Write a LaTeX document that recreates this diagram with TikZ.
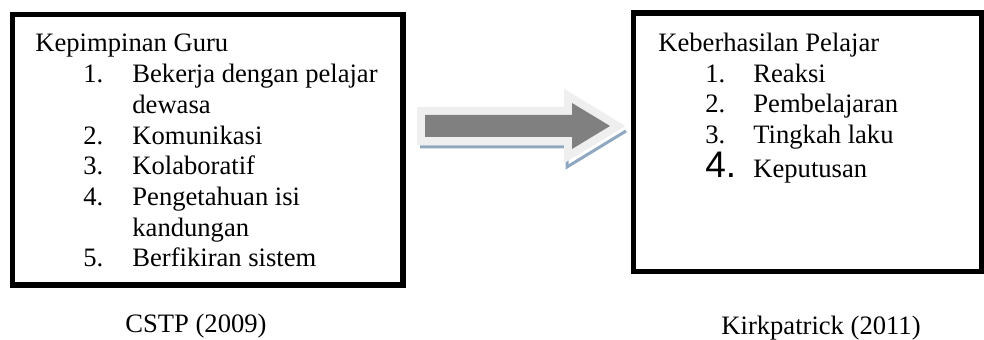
\documentclass[tikz,border=0pt]{standalone}
\usepackage{fontspec}
\setmainfont{Liberation Serif}
\newfontfamily\arialfont{Liberation Sans}
\definecolor{panahkelabu}{HTML}{808080}
\definecolor{panahtepi}{HTML}{EFEFEF}
\definecolor{panahbayang}{HTML}{8FA7BF}

\begin{document}
\begin{tikzpicture}[x=0.5pt, y=-0.5pt,
    kotak/.style={draw, line width=2.75pt, inner sep=0pt},
    teks/.style={anchor=base west, inner sep=0pt, font=\fontsize{13.3}{16}\selectfont}]

    \useasboundingbox (0,0) rectangle (984,340);

    % 1. 两个粗边框的方框
    \node[kotak, minimum width=195.25pt, minimum height=135.25pt] (guru) at (207.75,149.75) {};
    \node[kotak, minimum width=174.25pt, minimum height=129.25pt] (pelajar) at (807.75,142.25) {};

    % 2. 左边方框里的文字
    \node[teks] (judulguru) at (35,52) {Kepimpinan Guru};
    \node[teks] (ng1) at (83,82.7) {1.};
    \node[teks] (guru1) at (132,82.7) {Bekerja dengan pelajar};
    \node[teks] (guru1b) at (132,113.4) {dewasa};
    \node[teks] (ng2) at (83,144.1) {2.};
    \node[teks] (guru2) at (132,144.1) {Komunikasi};
    \node[teks] (ng3) at (83,174.8) {3.};
    \node[teks] (guru3) at (132,174.8) {Kolaboratif};
    \node[teks] (ng4) at (83,205.5) {4.};
    \node[teks] (guru4) at (132,205.5) {Pengetahuan isi};
    \node[teks] (guru4b) at (132,236.2) {kandungan};
    \node[teks] (ng5) at (83,266.9) {5.};
    \node[teks] (guru5) at (132,266.9) {Berfikiran sistem};

    % 3. 右边方框里的文字
    \node[teks] (judulpelajar) at (658,52) {Keberhasilan Pelajar};
    \node[teks] (np1) at (705,82.5) {1.};
    \node[teks] (pelajar1) at (753,82.5) {Reaksi};
    \node[teks] (np2) at (705,113) {2.};
    \node[teks] (pelajar2) at (753,113) {Pembelajaran};
    \node[teks] (np3) at (705,143.5) {3.};
    \node[teks] (pelajar3) at (753,143.5) {Tingkah laku};
    \node[teks, font=\arialfont\fontsize{18.5}{20}\selectfont] (np4) at (705,178) {4.};
    \node[teks] (pelajar4) at (753,178) {Keputusan};

    % 4. 中间的灰色箭头 (阴影, 浅色边, 填充)
    \draw[panahbayang, line width=1.5pt] (420,147) -- (567,147) -- (567,167) -- (626,131);
    \fill[panahkelabu, preaction={draw=panahtepi, line width=8pt, line join=miter}]
        (425,115) -- (572,115) -- (572,103) -- (610,126) -- (572,149) -- (572,137) -- (425,137) -- cycle;

    % 5. 方框下面的出处
    \node[teks] (sumberguru) at (125,333) {CSTP (2009)};
    \node[teks] (sumberpelajar) at (721,335) {Kirkpatrick (2011)};

\end{tikzpicture}
\end{document}
